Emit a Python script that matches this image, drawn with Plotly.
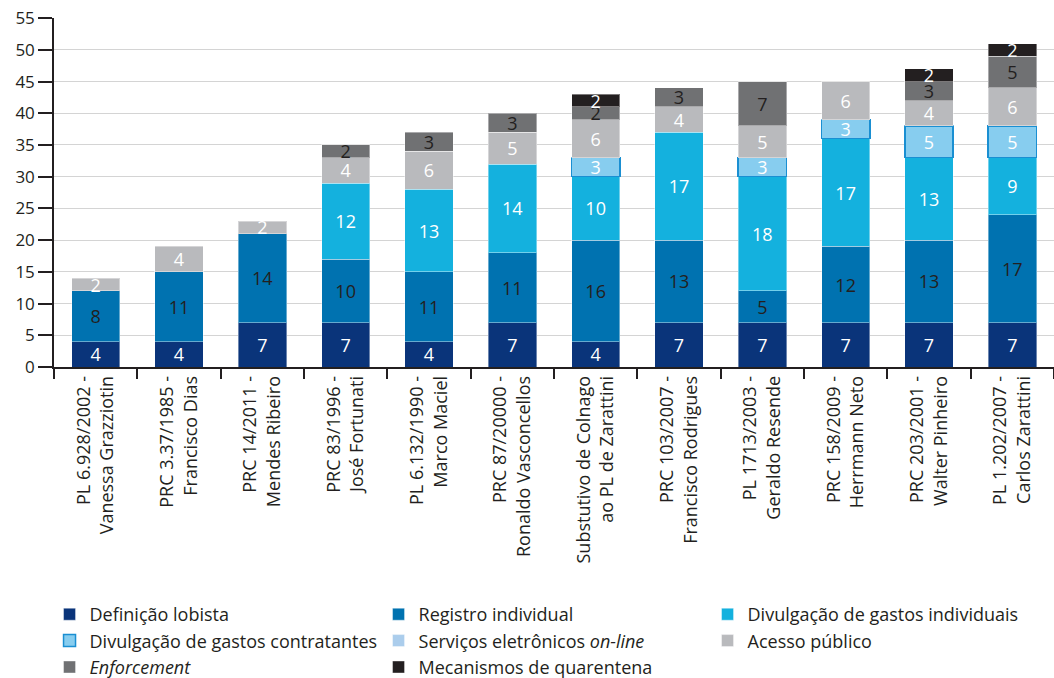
import plotly.graph_objects as go

categories = [
    "PL 6.928/2002 -<br>Vanessa Grazziotin",
    "PRC 3.37/1985 -<br>Francisco Dias",
    "PRC 14/2011 -<br>Mendes Ribeiro",
    "PRC 83/1996 -<br>José Fortunati",
    "PL 6.132/1990 -<br>Marco Maciel",
    "PRC 87/20000 -<br>Ronaldo Vasconcellos",
    "Substutivo de Colnago<br>ao PL de Zarattini",
    "PRC 103/2007 -<br>Francisco Rodrigues",
    "PL 1713/2003 -<br>Geraldo Resende",
    "PRC 158/2009 -<br>Herrmann Neto",
    "PRC 203/2001 -<br>Walter Pinheiro",
    "PL 1.202/2007 -<br>Carlos Zarattini",
]
y_ticks = [0, 5, 10, 15, 20, 25, 30, 35, 40, 45, 50, 55]

definicao_lobista = [4, 4, 7, 7, 4, 7, 4, 7, 7, 7, 7, 7]
registro_individual = [8, 11, 14, 10, 11, 11, 16, 13, 5, 12, 13, 17]
divulgacao_gastos_individuais = [None, None, None, 12, 13, 14, 10, 17, 18, 17, 13, 9]
divulgacao_gastos_contratantes = [None, None, None, None, None, None, 3, None, 3, 3, 5, 5]
servicos_eletronicos = [None] * 12
acesso_publico = [2, 4, 2, 4, 6, 5, 6, 4, 5, 6, 4, 6]
enforcement = [None, None, None, 2, 3, 3, 2, 3, 7, None, 3, 5]
mecanismos_quarentena = [None, None, None, None, None, None, 2, None, None, None, 2, 2]

series = [
    ("Definição lobista", definicao_lobista, "#0a347a", "white", "rgba(255,255,255,0.4)", 1),
    ("Registro individual", registro_individual, "#0072b0", "#231f20", "rgba(255,255,255,0.4)", 1),
    ("Divulgação de gastos individuais", divulgacao_gastos_individuais, "#14b1de", "white", "rgba(255,255,255,0.4)", 1),
    ("Divulgação de gastos contratantes", divulgacao_gastos_contratantes, "#87cdef", "white", "#1a8fd2", 1.5),
    ("Serviços eletrônicos <i>on-line</i>", servicos_eletronicos, "#abcdec", "white", "rgba(255,255,255,0.4)", 1),
    ("Acesso público", acesso_publico, "#b9babd", "white", "rgba(255,255,255,0.4)", 1),
    ("<i>Enforcement</i>", enforcement, "#707173", "#231f20", "rgba(255,255,255,0.4)", 1),
    ("Mecanismos de quarentena", mecanismos_quarentena, "#231f20", "white", "rgba(255,255,255,0.4)", 1),
]

fig = go.Figure()
for name, vals, color, tcolor, lcolor, lw in series:
    fig.add_trace(go.Bar(
        name=name,
        x=categories,
        y=vals,
        marker=dict(color=color, line=dict(color=lcolor, width=lw)),
        text=[("" if v is None else str(v)) for v in vals],
        textposition="inside",
        insidetextanchor="middle",
        textangle=0,
        constraintext="none",
        textfont=dict(family="Open Sans", size=18, color=tcolor),
        cliponaxis=False,
    ))

fig.update_layout(
    barmode="stack",
    bargap=0.42,
    width=1054,
    height=678,
    margin=dict(l=54, r=0, t=18, b=311, autoexpand=False),
    paper_bgcolor="white",
    plot_bgcolor="white",
    font=dict(family="Open Sans", size=16, color="#231f20"),
    showlegend=True,
    legend=dict(
        orientation="h",
        xref="container",
        yref="container",
        x=0.047,
        xanchor="left",
        y=1 - 596 / 678,
        yanchor="top",
        entrywidth=284,
        font=dict(family="Open Sans", size=18, color="#231f20"),
        itemwidth=30,
        traceorder="normal",
    ),
    xaxis=dict(
        showline=True,
        linecolor="#231f20",
        linewidth=1.5,
        ticks="outside",
        tickson="boundaries",
        ticklen=10,
        tickcolor="#231f20",
        tickwidth=1.5,
        tickangle=-90,
        tickfont=dict(family="Open Sans", size=18, color="#231f20"),
        showgrid=False,
        automargin=False,
    ),
    yaxis=dict(
        range=[0, 55.02],
        tickmode="array",
        tickvals=y_ticks,
        ticktext=[str(v) for v in y_ticks],
        showline=True,
        linecolor="#231f20",
        linewidth=1.5,
        ticks="outside",
        ticklen=14,
        tickcolor="#231f20",
        tickwidth=1.5,
        showgrid=True,
        gridcolor="#d4d4d4",
        gridwidth=1.2,
        zeroline=False,
        automargin=False,
        ticklabeloverflow="allow",
        tickfont=dict(family="Open Sans", size=17, color="#231f20"),
    ),
)

fig.write_html(
    "out.html",
    config={"displayModeBar": False},
    post_script="document.body.style.margin='0';",
)
